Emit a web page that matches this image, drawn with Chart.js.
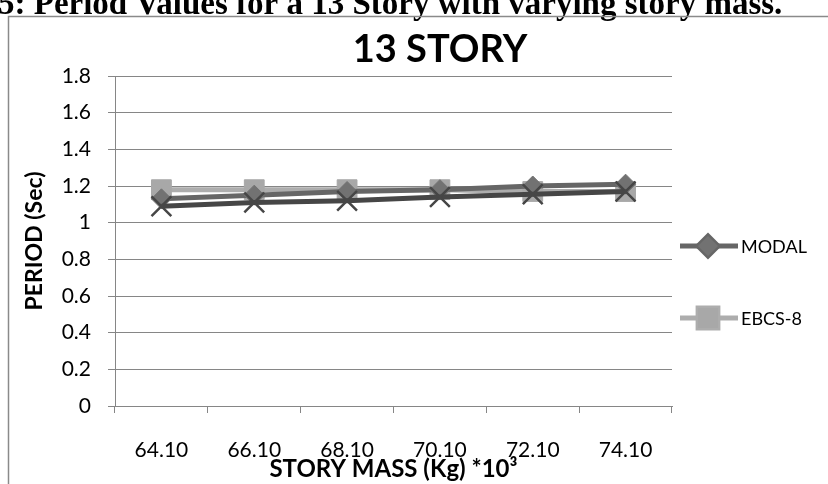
<!DOCTYPE html>
<html>
<head>
<meta charset="utf-8">
<script src="https://cdn.jsdelivr.net/npm/chart.js@4.4.1/dist/chart.umd.min.js"></script>
<style>
  html, body { margin: 0; padding: 0; background: #ffffff; }
  #wrap { position: relative; width: 828px; height: 484px; }
  canvas { display: block; }
</style>
</head>
<body>
<div id="wrap"><canvas id="c" width="828" height="484"></canvas></div>
<script>
// Story mass categories (x 10^3 kg)
const massLabels = ['64.10', '66.10', '68.10', '70.10', '72.10', '74.10'];

// Fundamental period (sec) of the 13 story frame
const modalPeriod = [1.13, 1.15, 1.17, 1.18, 1.20, 1.21];
const ebcsPeriod = [1.18, 1.18, 1.18, 1.18, 1.17, 1.17];
const approxPeriod = [1.09, 1.11, 1.12, 1.14, 1.155, 1.17];

const yTicks = [0, 0.2, 0.4, 0.6, 0.8, 1, 1.2, 1.4, 1.6, 1.8];

const headingText = '5: Period Values for a 13 Story with varying story mass.';
const chartTitle = '13 STORY';
const xTitle = 'STORY MASS (Kg) *10\u00B3';
const yTitle = 'PERIOD (Sec)';

const FONT = "Lato, 'Open Sans', 'Liberation Sans', sans-serif";
const PLOT_LEFT = 115, PLOT_RIGHT = 672, PLOT_TOP = 76, PLOT_BOTTOM = 406;
const PAD_LEFT = 10;

// Page heading, chart frame, chart title
const framePlugin = {
  id: 'frame',
  beforeDraw(chart) {
    const ctx = chart.ctx;
    ctx.save();
    ctx.fillStyle = '#000';
    ctx.font = "bold 33px 'Liberation Serif', 'Times New Roman', serif";
    ctx.textBaseline = 'alphabetic';
    ctx.textAlign = 'left';
    ctx.fillText(headingText, -2, 14);

    ctx.strokeStyle = '#8a8a8a';
    ctx.lineWidth = 1.5;
    ctx.beginPath();
    ctx.moveTo(8.5, 484);
    ctx.lineTo(8.5, 16.5);
    ctx.lineTo(828, 16.5);
    ctx.stroke();

    ctx.fillStyle = '#000';
    ctx.font = 'bold 38px ' + FONT;
    ctx.textAlign = 'center';
    ctx.textBaseline = 'middle';
    ctx.fillText(chartTitle, 440, 50);
    ctx.restore();
  }
};

// Legend on the right, showing the first two series
const legendPlugin = {
  id: 'sideLegend',
  afterDraw(chart) {
    const ctx = chart.ctx;
    const rows = [
      { ds: chart.data.datasets[0], y: 246 },
      { ds: chart.data.datasets[1], y: 318 }
    ];
    ctx.save();
    rows.forEach(r => {
      const ds = r.ds;
      ctx.strokeStyle = ds.borderColor;
      ctx.lineWidth = ds.borderWidth;
      ctx.beginPath();
      ctx.moveTo(680, r.y);
      ctx.lineTo(738, r.y);
      ctx.stroke();
      Chart.helpers.drawPoint(ctx, {
        pointStyle: ds.pointStyle,
        radius: ds.pointRadius,
        borderWidth: 1
      }, 708, r.y);
      ctx.fillStyle = ds.pointBackgroundColor;
      ctx.fill();
      ctx.fillStyle = '#000';
      ctx.font = '18px ' + FONT;
      ctx.textAlign = 'left';
      ctx.textBaseline = 'middle';
      ctx.fillText(ds.label, 741, r.y + 1);
    });
    ctx.restore();
  }
};

new Chart(document.getElementById('c'), {
  type: 'line',
  data: {
    labels: massLabels,
    datasets: [
      {
        label: 'MODAL',
        data: modalPeriod,
        borderColor: '#666666',
        backgroundColor: '#666666',
        pointBackgroundColor: '#727272',
        pointBorderColor: '#727272',
        borderWidth: 5,
        pointStyle: 'rectRot',
        pointRadius: 10,
        pointBorderWidth: 1,
        order: 1
      },
      {
        label: 'EBCS-8',
        data: ebcsPeriod,
        borderColor: '#adadad',
        backgroundColor: '#adadad',
        pointBackgroundColor: '#a8a8a8',
        pointBorderColor: '#a8a8a8',
        borderWidth: 5,
        pointStyle: 'rect',
        pointRadius: 14,
        pointBorderWidth: 1,
        order: 2
      },
      {
        label: 'APPROX',
        data: approxPeriod,
        borderColor: '#464646',
        backgroundColor: '#464646',
        pointBackgroundColor: '#464646',
        pointBorderColor: '#464646',
        borderWidth: 5,
        pointStyle: 'crossRot',
        pointRadius: 14,
        pointBorderWidth: 2.5,
        order: 0
      }
    ]
  },
  options: {
    responsive: false,
    animation: false,
    devicePixelRatio: 1,
    layout: {
      padding: { left: PAD_LEFT, right: 828 - PLOT_RIGHT, top: PLOT_TOP, bottom: 0 }
    },
    plugins: {
      legend: { display: false },
      title: { display: false },
      tooltip: { enabled: false }
    },
    elements: { line: { tension: 0 } },
    scales: {
      x: {
        type: 'category',
        offset: true,
        grid: {
          display: true,
          drawOnChartArea: false,
          drawTicks: true,
          tickLength: 7,
          offset: true,
          color: '#868686',
          lineWidth: 1
        },
        border: { display: true, color: '#868686', width: 1 },
        ticks: {
          color: '#000',
          font: { family: FONT, size: 21 },
          padding: 25,
          maxRotation: 0,
          autoSkip: false
        },
        title: {
          display: true,
          text: xTitle,
          color: '#000',
          font: { family: FONT, size: 24, weight: 'bold' },
          padding: { top: 0, bottom: 0 }
        },
        afterFit(s) { s.height = 484 - PLOT_BOTTOM; }
      },
      y: {
        min: 0,
        max: 1.8,
        afterBuildTicks(s) { s.ticks = yTicks.map(v => ({ value: v })); },
        grid: {
          color: '#868686',
          lineWidth: 1,
          tickLength: 7,
          drawTicks: true
        },
        border: { display: true, color: '#868686', width: 1 },
        ticks: {
          color: '#000',
          font: { family: FONT, size: 21 },
          padding: 17,
          callback: v => String(v)
        },
        title: {
          display: true,
          text: yTitle,
          color: '#000',
          font: { family: FONT, size: 23, weight: 'bold' },
          padding: { top: 11, bottom: 0 }
        },
        afterFit(s) { s.width = PLOT_LEFT - PAD_LEFT; }
      }
    }
  },
  plugins: [framePlugin, legendPlugin]
});
</script>
</body>
</html>
